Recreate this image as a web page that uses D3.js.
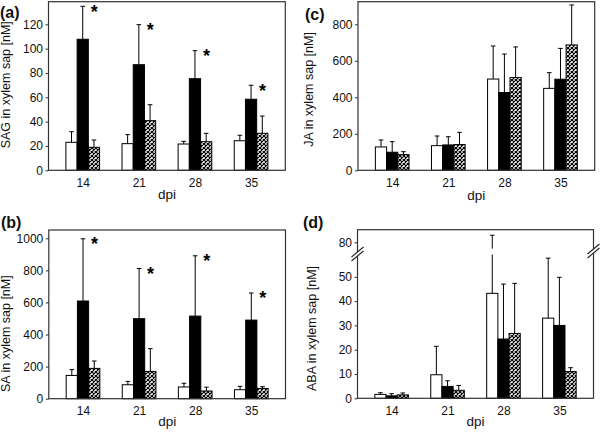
<!DOCTYPE html>
<html><head><meta charset="utf-8">
<script src="https://cdn.jsdelivr.net/npm/d3@7"></script>
<style>body{margin:0;background:#fff}svg{display:block}</style>
</head><body>
<script>
// ---------- data ----------
const dpi = ["14", "21", "28", "35"];

const sagWhite   = [23.0, 21.9, 21.6, 24.3];
const sagWhiteSD = [8.7, 7.4, 2.2, 4.5];
const sagBlack   = [107.7, 86.8, 75.3, 58.4];
const sagBlackSD = [27.1, 32.9, 23.0, 11.5];
const sagHatch   = [18.9, 40.8, 23.5, 30.4];
const sagHatchSD = [6.0, 13.1, 6.9, 14.2];
const sagSig     = [true, true, true, true];
const sagTicks   = [0, 20, 40, 60, 80, 100, 120];

const saWhite   = [145, 87, 73, 56];
const saWhiteSD = [36, 21, 23, 21];
const saBlack   = [609, 499, 515, 490];
const saBlackSD = [388, 313, 376, 169];
const saHatch   = [189, 170, 48, 64];
const saHatchSD = [46, 142, 24, 11];
const saSig     = [true, true, true, true];
const saTicks   = [0, 200, 400, 600, 800, 1000];

const jaWhite   = [128, 135, 500, 449];
const jaWhiteSD = [38, 53, 181, 86];
const jaBlack   = [99, 139, 426, 499];
const jaBlackSD = [58, 45, 211, 169];
const jaHatch   = [86, 141, 508, 687];
const jaHatchSD = [16, 67, 168, 219];
const jaSig     = [false, false, false, false];
const jaTicks   = [0, 200, 400, 600, 800];

const abaWhite   = [1.6, 9.7, 43.2, 33.0];
const abaWhiteSD = [0.7, 11.7, 39.7, 24.7];
const abaBlack   = [1.0, 4.9, 24.4, 30.0];
const abaBlackSD = [0.9, 2.3, 22.6, 19.8];
const abaHatch   = [1.4, 3.3, 26.7, 11.0];
const abaHatchSD = [0.8, 2.0, 20.6, 1.6];
const abaSig     = [false, false, false, false];
const abaTicks   = [0, 10, 20, 30, 40, 50, 80];
const abaBreak   = [58, 73.8];   // axis break: lower segment ends, upper segment starts

// ---------- drawing ----------
const FONT = "'Liberation Sans', Arial, sans-serif";
const svg = d3.select("body").append("svg").attr("width", 600).attr("height", 432);
const defs = svg.append("defs");
const pat = defs.append("pattern").attr("id", "hatch")
  .attr("patternUnits", "userSpaceOnUse").attr("width", 4).attr("height", 4);
pat.append("rect").attr("width", 4).attr("height", 4).attr("fill", "#fff");
pat.append("path").attr("d", "M0,0L4,4M4,0L0,4").attr("stroke", "#000").attr("stroke-width", 1.2);

function panel(cfg) {
  const g = svg.append("g");
  const x = d3.scalePoint().domain(dpi).range([cfg.left, cfg.right]).padding(0.61);
  const bw = x.step() * 0.2;
  const y = cfg.y;
  const series = [
    {v: cfg.white, sd: cfg.whiteSD, fill: "#fff"},
    {v: cfg.black, sd: cfg.blackSD, fill: "#000"},
    {v: cfg.hatch, sd: cfg.hatchSD, fill: "url(#hatch)"}
  ];
  const base = y(0);
  series.forEach((s, si) => {
    const off = (si - 1.5) * bw;
    g.selectAll(null).data(dpi).join("rect")
      .attr("x", d => x(d) + off).attr("width", bw)
      .attr("y", (d, i) => y(s.v[i])).attr("height", (d, i) => base - y(s.v[i]))
      .attr("fill", s.fill).attr("stroke", "#000").attr("stroke-width", 1);
    const cx = (d) => x(d) + off + bw / 2;
    g.selectAll(null).data(dpi).join("path")
      .attr("d", (d, i) => {
        const c = cx(d), y1 = y(s.v[i]), y2 = y(s.v[i] + s.sd[i]);
        return `M${c},${y1}V${y2}M${c - 2.3},${y2}H${c + 2.3}`;
      })
      .attr("stroke", "#000").attr("stroke-width", 1).attr("fill", "none");
  });
  // significance marks
  g.selectAll(null).data(dpi.filter((d, i) => cfg.sig[i])).join("text")
    .attr("x", d => x(d) + 11.5)
    .attr("y", d => { const i = dpi.indexOf(d); return y(cfg.black[i] + cfg.blackSD[i]) + 11.5; })
    .attr("text-anchor", "middle").attr("font-family", FONT).attr("font-weight", "bold")
    .attr("font-size", 18).text("*");
  if (cfg.gap) {
    g.append("rect").attr("x", cfg.left + 1).attr("width", cfg.right - cfg.left - 2)
      .attr("y", y(cfg.gap[1])).attr("height", y(cfg.gap[0]) - y(cfg.gap[1])).attr("fill", "#fff");
  }
  // frame
  g.append("rect").attr("x", cfg.left).attr("y", cfg.top)
    .attr("width", cfg.right - cfg.left).attr("height", base - cfg.top)
    .attr("fill", "none").attr("stroke", "#333").attr("stroke-width", 1.2);
  // y axis
  const ya = g.append("g").attr("transform", `translate(${cfg.left},0)`)
    .call(d3.axisLeft(y).tickValues(cfg.ticks).tickSize(3).tickPadding(2.5).tickFormat(d3.format("d")));
  ya.select(".domain").remove();
  ya.selectAll("line").attr("stroke", "#333");
  ya.selectAll("text").attr("font-family", FONT).attr("font-size", 12).attr("fill", "#111");
  // x axis
  const xa = g.append("g").attr("transform", `translate(0,${base})`)
    .call(d3.axisBottom(x).tickSize(0).tickPadding(7.8));
  xa.select(".domain").remove();
  xa.selectAll("text").attr("font-family", FONT).attr("font-size", 12).attr("fill", "#111");
  // axis titles
  g.append("text").attr("x", (cfg.left + cfg.right) / 2).attr("y", cfg.dpiY)
    .attr("text-anchor", "middle").attr("font-family", FONT).attr("font-size", 13.5)
    .attr("fill", "#111").text("dpi");
  g.append("text").attr("transform", `translate(${cfg.titleX},${cfg.titleY}) rotate(-90)`)
    .attr("text-anchor", "start").attr("font-family", FONT).attr("font-size", 12.5)
    .attr("fill", "#111").text(cfg.title);
  g.append("text").attr("x", cfg.labelX).attr("y", cfg.labelY)
    .attr("font-family", FONT).attr("font-weight", "bold").attr("font-size", 16)
    .attr("fill", "#111").text(cfg.label);
  // axis break marks
  if (cfg.breakY) {
    [[cfg.left, cfg.breakY[0]], [cfg.right, cfg.breakY[1]]].forEach(([bx, by]) => {
      g.append("path")
        .attr("d", `M${bx - 6},${by + 3}L${bx + 6},${by - 7}L${bx + 6},${by - 3}L${bx - 6},${by + 7}Z`)
        .attr("fill", "#fff");
      g.append("path")
        .attr("d", `M${bx - 6},${by + 3}L${bx + 6},${by - 7}M${bx - 6},${by + 7}L${bx + 6},${by - 3}`)
        .attr("stroke", "#222").attr("stroke-width", 1.1).attr("fill", "none");
    });
  }
}

panel({
  label: "(a)", labelX: 0, labelY: 18, title: "SAG in xylem sap [nM]", titleX: 10.3, titleY: 148.3,
  left: 48.5, right: 285.3, top: 1.7, dpiY: 199,
  y: d3.scaleLinear().domain([0, 120]).range([170.3, 24.3]), ticks: sagTicks,
  white: sagWhite, whiteSD: sagWhiteSD, black: sagBlack, blackSD: sagBlackSD,
  hatch: sagHatch, hatchSD: sagHatchSD, sig: sagSig
});
panel({
  label: "(b)", labelX: 1, labelY: 228, title: "SA in xylem sap [nM]", titleX: 10.3, titleY: 392,
  left: 48.8, right: 285.5, top: 230, dpiY: 426,
  y: d3.scaleLinear().domain([0, 1000]).range([398.7, 238.3]), ticks: saTicks,
  white: saWhite, whiteSD: saWhiteSD, black: saBlack, blackSD: saBlackSD,
  hatch: saHatch, hatchSD: saHatchSD, sig: saSig
});
panel({
  label: "(c)", labelX: 305, labelY: 20, title: "JA in xylem sap [nM]", titleX: 312.5, titleY: 146.7,
  left: 358, right: 594.7, top: 1.7, dpiY: 200,
  y: d3.scaleLinear().domain([0, 800]).range([170.3, 24.3]), ticks: jaTicks,
  white: jaWhite, whiteSD: jaWhiteSD, black: jaBlack, blackSD: jaBlackSD,
  hatch: jaHatch, hatchSD: jaHatchSD, sig: jaSig
});
panel({
  label: "(d)", labelX: 303, labelY: 228, title: "ABA in xylem sap [nM]", titleX: 315.5, titleY: 391,
  left: 357.5, right: 593.5, top: 229.7, dpiY: 426,
  y: d3.scaleLinear().domain([0, abaBreak[0], abaBreak[1], 80]).range([398.3, 257.4, 257.4, 242.3]),
  ticks: abaTicks, gap: [75, 77.4], breakY: [254, 251],
  white: abaWhite, whiteSD: abaWhiteSD, black: abaBlack, blackSD: abaBlackSD,
  hatch: abaHatch, hatchSD: abaHatchSD, sig: abaSig
});
</script>
</body></html>
